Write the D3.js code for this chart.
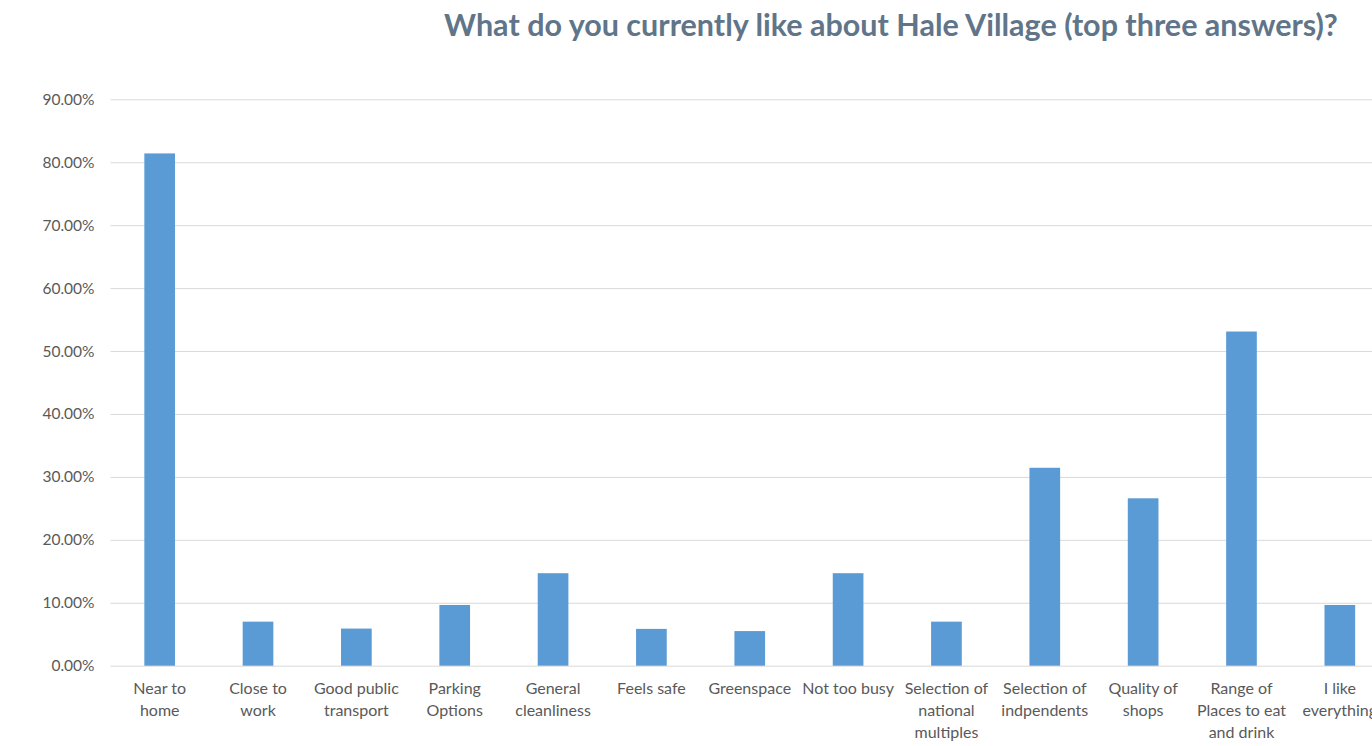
<html>
<head>
<title>Hale Village</title>
<script src="https://d3js.org/d3.v7.min.js"></script>
<style>
  body { margin: 0; background: #fff; }
  text { font-family: Lato, "Open Sans", sans-serif; }
</style>
<script>
const categories = [
  "Near to home", "Close to work", "Good public transport", "Parking Options",
  "General cleanliness", "Feels safe", "Greenspace", "Not too busy",
  "Selection of national multiples", "Selection of indpendents", "Quality of shops",
  "Range of Places to eat and drink", "I like everything"
];
// how each category label is broken into lines under the axis
const labelLines = [
  ["Near to", "home"], ["Close to", "work"], ["Good public", "transport"], ["Parking", "Options"],
  ["General", "cleanliness"], ["Feels safe"], ["Greenspace"], ["Not too busy"],
  ["Selection of", "national", "multiples"], ["Selection of", "indpendents"], ["Quality of", "shops"],
  ["Range of", "Places to eat", "and drink"], ["I like", "everything"]
];
const values = [0.814, 0.070, 0.059, 0.0965, 0.147, 0.0585, 0.055, 0.147, 0.070, 0.3145, 0.266, 0.531, 0.0965];
const yTicks = [0, 0.1, 0.2, 0.3, 0.4, 0.5, 0.6, 0.7, 0.8, 0.9];
const title = "What do you currently like about Hale Village (top three answers)?";

document.addEventListener('DOMContentLoaded', function(){
  const w = 1372, h = 746;
  const left = 110.5, right = 1389, top = 99.3, bottom = 665.7;

  const svg = d3.select("body").append("svg")
    .attr("width", w)
    .attr("height", h);

  const xScale = d3.scaleBand()
    .domain(categories)
    .range([left, right])
    .paddingInner(0.688)
    .paddingOuter(0.344);

  const yScale = d3.scaleLinear()
    .domain([0, 0.9])
    .range([bottom, top]);

  // gridlines + tick labels
  const yAxis = d3.axisLeft(yScale)
    .tickValues(yTicks)
    .tickFormat(d3.format(".2%"))
    .tickSize(-(right - left))
    .tickPadding(16);

  const gy = svg.append("g")
    .attr("transform", `translate(${left},0)`)
    .call(yAxis);
  gy.select(".domain").remove();
  gy.selectAll(".tick line").attr("stroke", "#d9d9d9").attr("stroke-width", 1);
  gy.selectAll(".tick text")
    .attr("fill", "#595959")
    .style("font-size", "15.5px");

  svg.selectAll("rect.bar")
    .data(values)
    .enter()
    .append("rect")
    .attr("class", "bar")
    .attr("x", (d, i) => xScale(categories[i]))
    .attr("y", d => yScale(d))
    .attr("width", xScale.bandwidth())
    .attr("height", d => yScale(0) - yScale(d))
    .attr("fill", "#5b9bd5");

  // category labels
  const xAxis = d3.axisBottom(xScale).tickSize(0).tickFormat("");
  const gx = svg.append("g")
    .attr("transform", `translate(0,${bottom})`)
    .call(xAxis);
  gx.select(".domain").remove();

  gx.selectAll(".tick").each(function(d, i) {
    const t = d3.select(this).append("text")
      .attr("text-anchor", "middle")
      .attr("fill", "#595959")
      .style("font-size", "16px");
    labelLines[i].forEach((line, j) => {
      t.append("tspan")
        .attr("x", 0)
        .attr("y", 28 + j * 22)
        .text(line);
    });
  });

  svg.append("text")
    .attr("x", 891)
    .attr("y", 36)
    .attr("text-anchor", "middle")
    .attr("fill", "#607589")
    .style("font-size", "30.5px")
    .style("font-weight", "bold")
    .text(title);
});
</script>
</head>
<body>
</body>
</html>
